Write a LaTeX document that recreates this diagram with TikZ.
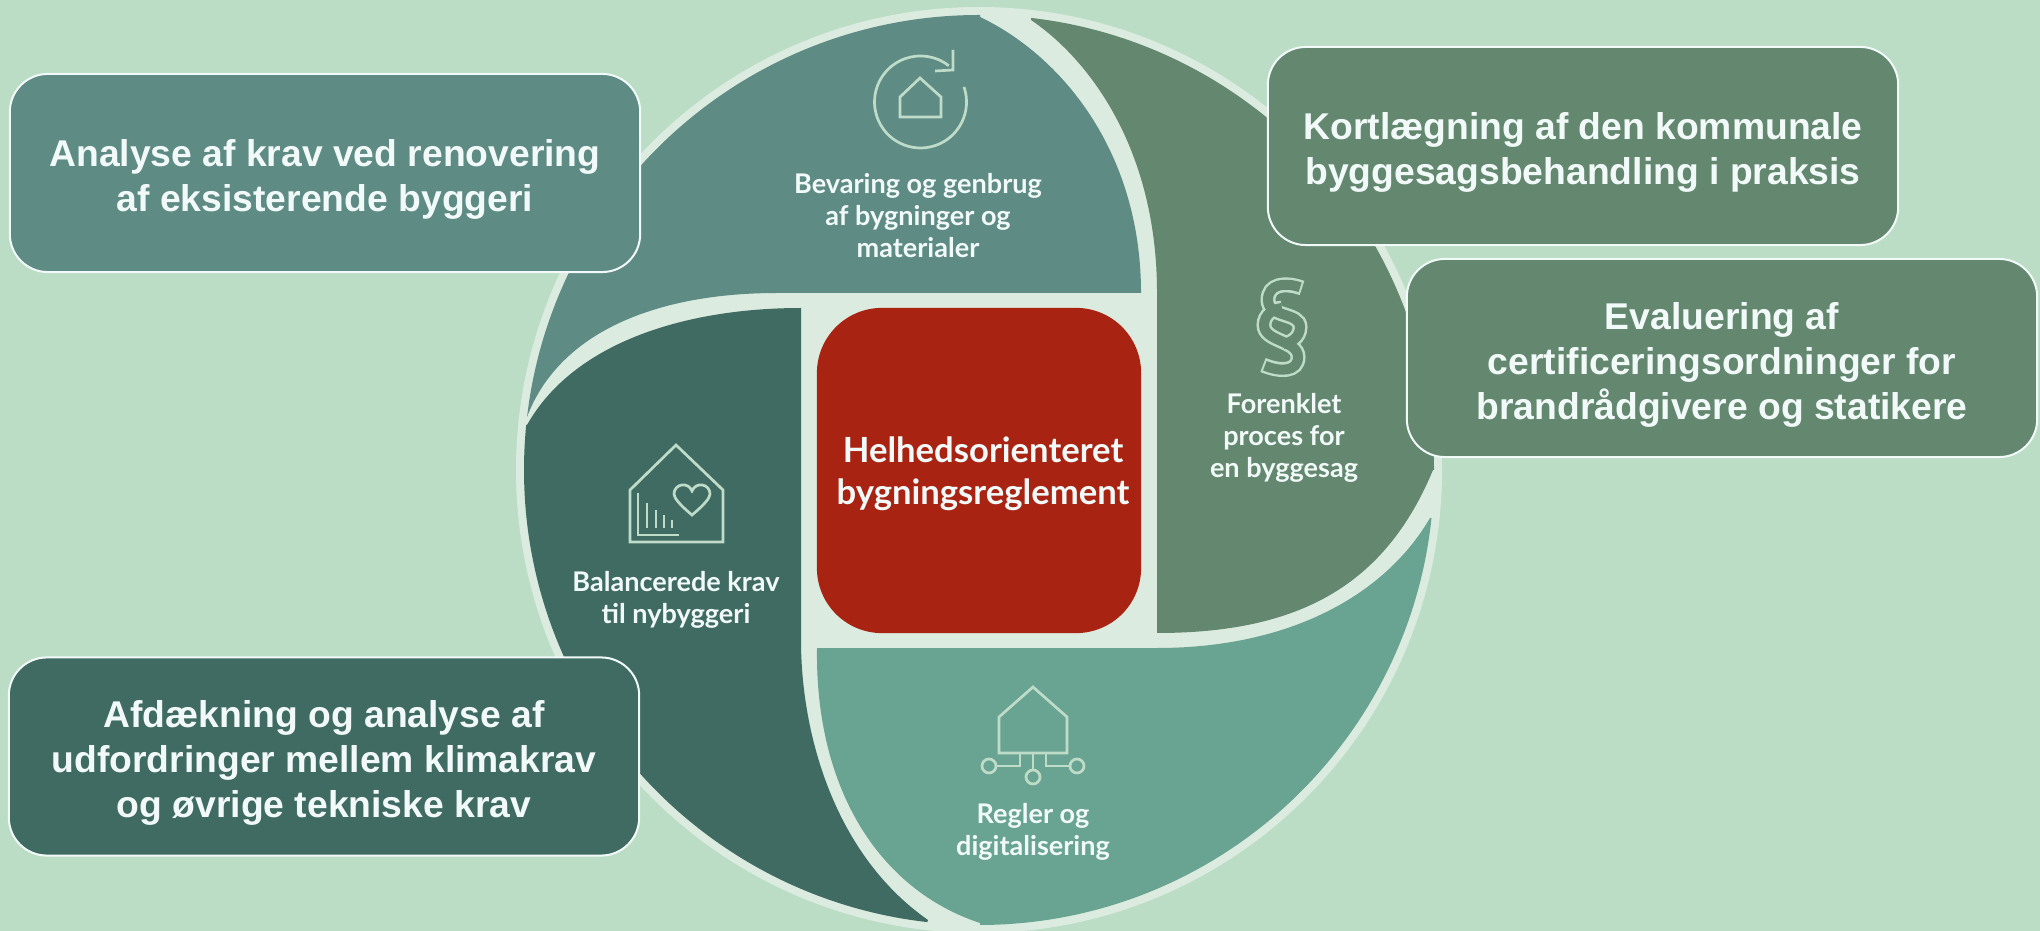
\documentclass[tikz,border=0pt]{standalone}
\usepackage{fontspec}
\setmainfont{Liberation Sans}
\newfontfamily\labelfont{Lato}
\definecolor{bgc}{HTML}{BBDDC6}
\definecolor{ringc}{HTML}{DCEBDF}
\definecolor{tealc}{HTML}{5F8B85}
\definecolor{sagec}{HTML}{63876F}
\definecolor{darkc}{HTML}{406B63}
\definecolor{mintc}{HTML}{69A392}
\definecolor{redc}{HTML}{A92313}
\definecolor{iconc}{HTML}{BFDCC9}
\definecolor{txtc}{HTML}{F1FAF8}
\newcommand{\boxgap}{\rule{0pt}{11.4pt}}
\tikzset{
  infobox/.style={draw=txtc,line width=0.02cm,rounded corners=0.38cm,inner sep=0pt,align=center,
    text=txtc,font=\fontsize{10.6}{12.8}\selectfont\bfseries,minimum height=1.98cm,minimum width=6.3cm},
  seglabel/.style={inner sep=0pt,align=center,text=txtc,font=\fontsize{7.7}{9.1}\labelfont\bfseries},
  icon/.style={draw=iconc,line width=0.027cm,line join=miter},
}
\begin{document}
\begin{tikzpicture}[x=0.01cm,y=-0.01cm]
\path[use as bounding box,fill=bgc] (0,0) rectangle (2040,931);
\fill[ringc] (979,470) circle[radius=463];
\begin{scope}
  \clip (979,470) circle[radius=455];
  \fill[tealc] (527,417) -- (480,417) -- (480,-50) -- (980,-50) -- (980,17)
    .. controls (1060,55) and (1141,150) .. (1141,293) -- (777,293)
    .. controls (660,293) and (560,330) .. (527,417) -- cycle;
  \fill[sagec] (1031,20) -- (1031,-50) -- (1500,-50) -- (1500,470) -- (1433,470)
    .. controls (1385,585) and (1300,633) .. (1157,633) -- (1157,293)
    .. controls (1157,150) and (1090,60) .. (1031,20) -- cycle;
  \fill[darkc] (527,425) .. controls (575,340) and (690,308) .. (801,308) -- (801,640)
    .. controls (801,735) and (835,855) .. (928,920) -- (900,1000) -- (400,1000) -- (400,425) -- cycle;
  \fill[mintc] (817,648) -- (1157,648) .. controls (1290,648) and (1385,595) .. (1430,518)
    -- (1500,518) -- (1500,1000) -- (980,1000) -- (980,923)
    .. controls (880,890) and (815,790) .. (817,648) -- cycle;
\end{scope}
\node[fill=redc,rounded corners=0.65cm,minimum width=3.24cm,minimum height=3.25cm,inner sep=0pt,
  align=center,text=txtc,font=\fontsize{9.85}{11.9}\labelfont\bfseries] (centre) at (979,470.5)
  {\rule{0pt}{9.2pt}\hspace*{2.3pt}Helhedsorienteret\\\hspace*{2.3pt}bygningsreglement};
% icon: house in circular arrow
\draw[icon] (964,87) arc[start angle=-19,end angle=308,radius=46];
\draw[icon] (953,50) -- (953,70) -- (935,71);
\draw[icon] (920,78) -- (900,97) -- (900,117) -- (941,117) -- (941,97) -- cycle;
% icon: section sign
\foreach \w/\c/\s in {0.15/iconc/0,0.10/sagec/0.02}{
  \draw[draw=\c,line width=\w cm,line cap=butt,shorten <=\s cm]
    (1302,288) .. controls (1285,282) and (1268,284) .. (1268,300)
    .. controls (1268,318) and (1300,312) .. (1300,327) .. controls (1300,338) and (1290,343) .. (1283,344);
  \draw[draw=\c,line width=\w cm,line cap=butt,shorten <=\s cm]
    (1263,365) .. controls (1280,372) and (1298,372) .. (1298,357)
    .. controls (1298,340) and (1264,342) .. (1264,325) .. controls (1264,315) and (1273,309) .. (1282,308);
}
% icon: house with chart and heart
\draw[icon] (676,445) -- (630,490) -- (630,542) -- (723,542) -- (723,490) -- cycle;
\draw[icon] (638,493) -- (638,535) -- (679,535);
\draw[icon] (647,503) -- (647,528) (656,510) -- (656,528) (664,515) -- (664,528) (672,520) -- (672,528);
\draw[icon] (692,515) .. controls (680,505) and (674,498) .. (674,494) .. controls (674,484) and (688,481) .. (692,491)
  .. controls (696,481) and (710,484) .. (710,494) .. controls (710,498) and (704,505) .. (692,515) -- cycle;
% icon: house with connectors
\draw[icon] (1033,687) -- (999,717) -- (999,753) -- (1067,753) -- (1067,717) -- cycle;
\draw[icon] (1020,753) -- (1020,766) -- (996,766);
\draw[icon] (1033,753) -- (1033,770);
\draw[icon] (1046,753) -- (1046,766) -- (1070,766);
\draw[icon] (989,766) circle[radius=7];
\draw[icon] (1033,777) circle[radius=7];
\draw[icon] (1077,766) circle[radius=7];
% segment labels
\node[seglabel] (bev) at (918,216) {Bevaring og genbrug\\af bygninger og\\materialer};
\node[seglabel] (for) at (1284,438) {Forenklet\\proces for\\en byggesag};
\node[seglabel] (bal) at (676,600) {Balancerede krav\\til nybyggeri};
\node[seglabel] (reg) at (1033,832) {Regler og\\digitalisering};
% callout boxes
\node[infobox,fill=tealc] (b1) at (325,173) {\boxgap Analyse af krav ved renovering\\af eksisterende byggeri};
\node[infobox,fill=darkc] (b2) at (324,756.5) {\boxgap Afdækning og analyse af\\udfordringer mellem klimakrav\\og øvrige tekniske krav};
\node[infobox,fill=sagec] (b3) at (1583,146) {\boxgap Kortlægning af den kommunale\\byggesagsbehandling i praksis};
\node[infobox,fill=sagec] (b4) at (1722,358) {\boxgap Evaluering af\\certificeringsordninger for\\brandrådgivere og statikere};
\end{tikzpicture}
\end{document}
